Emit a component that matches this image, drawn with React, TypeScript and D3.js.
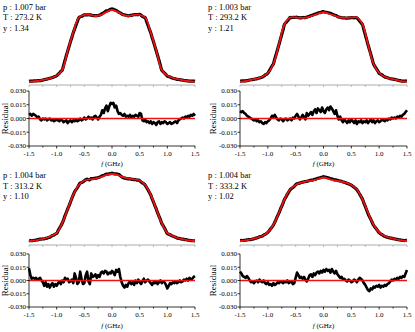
import * as d3 from 'd3'
import React from 'react'

// frequency grids (GHz)
const fitFreq = d3.range(-15, 16).map(i => i / 10)
const resFreq = d3.range(-60, 61).map(i => i / 40)

// normalised fitted line shapes (red)
const fit273 = [0.005, 0.01, 0.02, 0.035, 0.055, 0.085, 0.16, 0.42, 0.66, 0.86, 0.895, 0.895, 0.88, 0.895, 0.935, 0.96, 0.935, 0.895, 0.88, 0.895, 0.895, 0.86, 0.66, 0.42, 0.16, 0.085, 0.055, 0.035, 0.02, 0.01, 0.005]
const fit293 = [0.005, 0.01, 0.03, 0.045, 0.07, 0.12, 0.24, 0.5, 0.77, 0.86, 0.86, 0.855, 0.86, 0.885, 0.91, 0.93, 0.91, 0.885, 0.86, 0.855, 0.86, 0.86, 0.77, 0.5, 0.24, 0.12, 0.07, 0.045, 0.03, 0.01, 0.005]
const fit313 = [0.01, 0.02, 0.035, 0.05, 0.08, 0.12, 0.25, 0.44, 0.63, 0.76, 0.82, 0.835, 0.845, 0.865, 0.895, 0.907, 0.895, 0.865, 0.845, 0.835, 0.82, 0.76, 0.63, 0.44, 0.25, 0.12, 0.08, 0.05, 0.035, 0.02, 0.01]
const fit333 = [0.01, 0.02, 0.035, 0.055, 0.08, 0.13, 0.23, 0.39, 0.57, 0.7, 0.76, 0.79, 0.81, 0.82, 0.84, 0.86, 0.84, 0.82, 0.81, 0.79, 0.76, 0.7, 0.57, 0.39, 0.23, 0.13, 0.08, 0.055, 0.035, 0.02, 0.01]

// residuals, in units of 1e-3
const res273 = [4, 5, 3, 5, 4, 3, 1, 2, -1, -2, 0,
  -1, 0, -2, -1, 0, -2, -1, -3, -2, -1,
  -2, -3, -1, -2, -4, -3, -2, -5, -3, -2,
  -4, -2, -3, -1, -3, -2, 0, -2, -1, 1,
  -1, 0, 2, 0, 1, -1, 2, 3, 1, -1,
  2, 4, 9, 6, 11, 14, 8, 13, 17, 16,
  17, 12, 14, 8, 5, 6, 4, 3, 5, 2,
  3, 2, 4, 1, 3, 2, 4, 3, 2, 6,
  5, -2, -3, -1, -4, -3, -5, -3, -6, -4,
  -5, -7, -4, -3, -6, -4, -5, -3, -4, -6,
  -5, -4, -6, -5, -4, -3, -5, -2, -1, 0,
  1, 0, 2, 1, 3, 2, 4, 3, 5, 3]
const res293 = [8, 7, 8, 6, 5, 3, 2, 1, 0, -1, -2,
  -1, -3, -2, -4, -3, -5, -6, -4, -5, -3,
  -2, 0, 3, 2, 4, 1, -1, -2, 0, -1,
  -3, -1, 0, -2, -1, 0, -2, 1, 0, 3,
  5, 2, -1, 1, 4, 2, -1, 6, 3, 5,
  7, 4, 8, 10, 6, 11, 9, 7, 12, 8,
  6, 10, 12, 9, 13, 11, 8, 5, 9, 3,
  -1, 2, -2, -4, -1, -3, -5, -2, -4, -1,
  -3, -5, -2, -6, -3, -4, -2, -5, -3, -4,
  -2, -5, -3, -1, -4, -2, -5, -3, -2, -4,
  -3, -1, -2, -3, -1, -2, 0, -1, 1, 0,
  1, 0, 2, 1, 3, 2, 4, 5, 7, 9]
const res313 = [14, 6, 2, 3, 2, 3, 1, 2, 3, 0, -2,
  -6, -2, -7, -4, -8, -5, -3, -7, -4, -6,
  -3, -1, -4, 0, -2, 3, 1, 2, -2, -1,
  1, -3, 8, 3, -4, -2, 10, 2, -4, -3,
  6, 10, -1, -4, 8, 4, 5, 7, 3, 6,
  4, 9, 10, 8, 11, 10, 7, 9, 8, 11,
  9, 6, 12, 10, 13, 4, -2, -6, -8, -5,
  -7, -3, -1, -4, -2, -5, 0, -3, 1, -2,
  -4, -1, 2, -2, 0, 1, -1, -3, -5, -2,
  -3, -1, -4, -2, 0, -3, -1, -2, -5, -9,
  -6, -3, -4, -2, -3, -1, -3, -2, 0, -2,
  -1, 1, 0, 2, 0, 3, 1, 2, 4, 5]
const res333 = [10, 8, 5, 4, 3, 5, 3, 0, -2, -1, -3,
  -1, 0, -2, 1, -1, -2, 0, -3, -4, -2,
  -5, -4, -6, -3, -5, -4, -2, -3, -1, -2,
  -3, -1, -2, 0, -3, -2, -1, -4, -3, 3,
  9, 6, 3, 4, 2, 4, 1, -1, 2, 6,
  7, 4, 8, 6, 9, 10, 8, 11, 9, 12,
  10, 13, 11, 12, 9, 13, 10, 8, 11, 7,
  5, 3, 4, 1, 2, 0, -1, 1, 0, -2,
  -1, 1, 0, -2, 1, 3, 2, 0, -3, -5,
  -8, -11, -12, -9, -10, -7, -8, -6, -7, -5,
  -8, -6, -7, -5, -6, -4, -3, -1, 1, 0,
  2, 1, 3, 2, 4, 3, 5, 4, 8, 12]

const pressures = ['1.007', '1.003', '1.004', '1.004']
const temps = ['273.2', '293.2', '313.2', '333.2']
const yValues = ['1.34', '1.21', '1.10', '1.02']
const fits = [fit273, fit293, fit313, fit333]
const residuals = [res273, res293, res313, res333]

const xTicks = [-1.5, -1.0, -0.5, 0.0, 0.5, 1.0, 1.5]
const yTicks = [0.03, 0.015, 0, -0.015, -0.03]

const cols = [
  { x0: 29, x1: 195, textX: 3, labelX: 5.5 },
  { x0: 240, x1: 407, textX: 208, labelX: 213.5 },
]
const rows = [
  { base: 82, top: 7, grey: 85, resTop: 91, resBot: 146, tickY: 155.5, fY: 166, textY: 9.5 },
  { base: 242, top: 167, grey: 245, resTop: 254, resBot: 307, tickY: 316.5, fY: 327.5, textY: 178 },
]

const serif = "'Liberation Serif', 'DejaVu Serif', serif"
const RED = '#ee1111'

function Panel({ idx }: { idx: number }) {
  const c = cols[idx % 2]
  const r = rows[Math.floor(idx / 2)]
  const fit = fits[idx]
  const res = residuals[idx].map(v => v / 1000)

  const x = d3.scaleLinear().domain([-1.5, 1.5]).range([c.x0, c.x1])
  const yS = d3.scaleLinear().domain([0, 1]).range([r.base, r.top])
  const yR = d3.scaleLinear().domain([-0.03, 0.03]).range([r.resBot, r.resTop])
  const fitAt = d3.scaleLinear().domain(fitFreq).range(fit)

  const fitLine = d3.line<number>()
    .x((_, i) => x(fitFreq[i]))
    .y(d => yS(d))
    .curve(d3.curveCatmullRom)
  const measLine = d3.line<number>()
    .x((_, i) => x(resFreq[i]))
    .y((d, i) => yS(fitAt(resFreq[i]) + d))
    .curve(d3.curveCatmullRom)
  const resLine = d3.line<number>()
    .x((_, i) => x(resFreq[i]))
    .y(d => yR(d))

  const minor = d3.range(-6, 7).map(i => i / 4)
  const midX = (c.x0 + c.x1) / 2

  return (
    <g>
      <g fontFamily={serif} fontSize={8.5} fill="#000">
        <text x={c.textX} y={r.textY}>p : {pressures[idx]} bar</text>
        <text x={c.textX} y={r.textY + 10.5}>T : {temps[idx]} K</text>
        <text x={c.textX} y={r.textY + 21}>y : {yValues[idx]}</text>
      </g>

      <path d={measLine(res) || ''} fill="none" stroke="#000" strokeWidth={3.2} strokeLinejoin="round" />
      <path d={fitLine(fit) || ''} fill="none" stroke={RED} strokeWidth={1.8} />

      {/* spectrum x axis, unlabelled */}
      <line x1={c.x0} x2={c.x1} y1={r.grey} y2={r.grey} stroke="#aaa" strokeWidth={1} />
      {minor.map(t => (
        <line key={'g' + t} x1={x(t)} x2={x(t)} y1={r.grey} y2={r.grey + 2} stroke="#aaa" strokeWidth={0.8} />
      ))}

      {/* residual panel */}
      <path d={resLine(res) || ''} fill="none" stroke="#000" strokeWidth={2.6} strokeLinejoin="round" />
      <line x1={c.x0} x2={c.x1} y1={yR(0)} y2={yR(0)} stroke={RED} strokeWidth={1.4} />

      <line x1={c.x0} x2={c.x0} y1={r.resTop} y2={r.resBot} stroke="#000" strokeWidth={0.8} />
      <line x1={c.x0} x2={c.x1} y1={r.resBot} y2={r.resBot} stroke="#000" strokeWidth={0.8} />
      {yTicks.map(t => (
        <g key={'y' + t}>
          <line x1={c.x0 - 2.5} x2={c.x0} y1={yR(t)} y2={yR(t)} stroke="#000" strokeWidth={0.8} />
          <text x={c.x0 - 3} y={yR(t)} dy="0.33em" textAnchor="end" fontFamily={serif} fontSize={7}>
            {t.toFixed(3)}
          </text>
        </g>
      ))}
      {minor.map(t => (
        <line key={'m' + t} x1={x(t)} x2={x(t)} y1={r.resBot} y2={r.resBot + (xTicks.includes(t) ? 2.5 : 1.5)} stroke="#000" strokeWidth={0.8} />
      ))}
      {xTicks.map(t => (
        <text key={'x' + t} x={x(t)} y={r.tickY} textAnchor="middle" fontFamily={serif} fontSize={7}>
          {t.toFixed(1)}
        </text>
      ))}
      <text x={midX} y={r.fY} textAnchor="middle" fontFamily={serif} fontSize={7}>
        <tspan fontStyle="italic">f</tspan> (GHz)
      </text>
      <text
        transform={`translate(${c.labelX},${(r.resTop + r.resBot) / 2}) rotate(-90)`}
        dy="0.33em"
        textAnchor="middle"
        fontFamily={serif}
        fontSize={9}
      >
        Residual
      </text>
    </g>
  )
}

export default function App() {
  return (
    <svg width={415} height={332} style={{ position: 'absolute', left: 0, top: 0, background: '#fff' }}>
      {[0, 1, 2, 3].map(i => <Panel key={i} idx={i} />)}
    </svg>
  )
}
